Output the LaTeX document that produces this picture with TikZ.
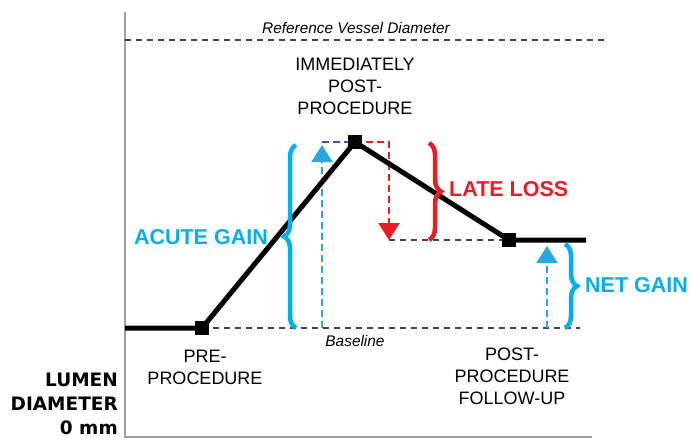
\documentclass[tikz,border=0pt]{standalone}
\usepackage{fontspec}
\setmainfont{Liberation Sans}
\newfontfamily\heavyfont{DejaVu Sans}
\usetikzlibrary{arrows.meta,decorations.pathreplacing}
\definecolor{cyanb}{HTML}{00AEEF}
\definecolor{arrowb}{HTML}{29A8E0}
\definecolor{navyb}{HTML}{3A5BA9}
\definecolor{redl}{HTML}{ED1C24}
\definecolor{axisgray}{HTML}{A0A0A0}
\definecolor{dashgray}{HTML}{444444}
\tikzset{
  marker/.style={rectangle,fill=black,minimum size=14pt,inner sep=0pt},
  curve/.style={line width=5pt,black},
  guide/.style={dashgray,line width=1.2pt,dash pattern=on 6pt off 5pt},
  darr/.style={line width=2pt,dash pattern=on 7pt off 4pt,-{Triangle[width=21pt,length=17pt]}},
  bracestyle/.style={line width=4.5pt,decorate,decoration={brace,amplitude=12pt}},
  lbl/.style={align=center,inner sep=0pt,font=\fontsize{18}{22}\selectfont},
  bold/.style={inner sep=0pt,font=\fontsize{21.5}{25}\selectfont\bfseries},
  heavy/.style={align=right,inner sep=0pt,font=\heavyfont\fontsize{18.5}{24}\selectfont\bfseries},
  itl/.style={inner sep=0pt,font=\itshape\fontsize{15.4}{18}\selectfont}
}
\begin{document}
\begin{tikzpicture}[x=1pt,y=-1pt]
\useasboundingbox (0,0) rectangle (690,440);
% axes
\coordinate (axtop) at (125,12);
\coordinate (axorig) at (125,437);
\coordinate (axright) at (592,437);
\draw[axisgray,line width=1.5pt] (axtop) -- (axorig) -- (axright);
% markers positions
\coordinate (p1) at (202,328);
\coordinate (p2) at (355,142);
\coordinate (p3) at (509,240);
\coordinate (lstart) at (125,328);
\coordinate (lend) at (586,240);
% reference line
\coordinate (refL) at (125,40);
\coordinate (refR) at (605,40);
\draw[guide] (refL) -- (refR);
\node[itl] (reftxt) at (356,28) {Reference Vessel Diameter};
% baseline
\coordinate (baseR) at (580,328);
\draw[guide] (p1) -- (baseR);
\node[itl] (basetxt) at (355,341) {Baseline};
% late loss level
\coordinate (redB) at (389,240);
\coordinate (redT) at (389,142);
\draw[guide] (redB) -- (p3);
% acute arrow
\coordinate (abot) at (322,328);
\coordinate (atop) at (322,145);
\coordinate (ahor) at (322,142);
\draw[arrowb,darr] (abot) -- (atop);
\draw[navyb,line width=2pt,dash pattern=on 7pt off 4pt] (ahor) -- (p2);
% late loss arrow
\draw[redl,darr,line width=2.2pt] (p2) -- (redT) -- (redB);
% net gain arrow
\coordinate (nbot) at (547,328);
\coordinate (ntop) at (547,246);
\draw[arrowb,darr] (nbot) -- (ntop);
% main curve
\draw[curve] (lstart) -- (p1) -- (p2) -- (p3) -- (lend);
\node[marker] (m1) at (p1) {};
\node[marker] (m2) at (p2) {};
\node[marker] (m3) at (p3) {};
% braces
\coordinate (b1s) at (296,328);
\coordinate (b1e) at (296,145);
\draw[cyanb,bracestyle] (b1s) -- (b1e);
\coordinate (b2s) at (429,143);
\coordinate (b2e) at (429,240);
\draw[redl,bracestyle] (b2s) -- (b2e);
\coordinate (b3s) at (565,244);
\coordinate (b3e) at (565,328);
\draw[cyanb,bracestyle] (b3s) -- (b3e);
% bold labels
\node[bold,cyanb,anchor=east] (acute) at (268,237) {ACUTE GAIN};
\node[bold,redl,anchor=west] (late) at (449,189) {LATE LOSS};
\node[bold,cyanb,anchor=west] (net) at (585,285) {NET GAIN};
% point labels
\node[lbl] (immed) at (355,86) {IMMEDIATELY\\POST-\\PROCEDURE};
\node[lbl] (pre) at (205,367) {PRE-\\PROCEDURE};
\node[lbl] (post) at (512,376) {POST-\\PROCEDURE\\FOLLOW-UP};
% axis label
\node[heavy,anchor=east] (lumen) at (118,404) {LUMEN\\DIAMETER\\0 mm};
\end{tikzpicture}
\end{document}
